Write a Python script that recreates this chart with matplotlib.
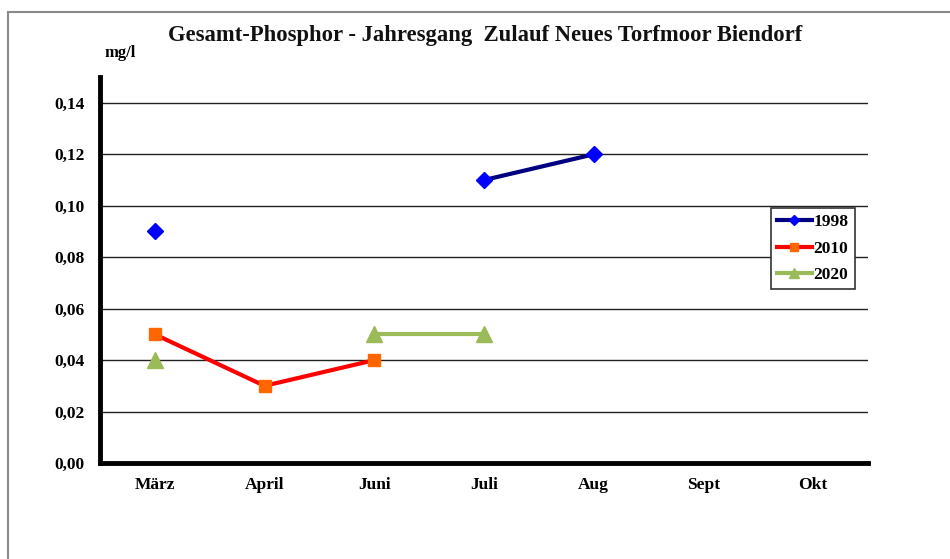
import matplotlib.pyplot as plt
import numpy as np
from matplotlib.lines import Line2D

# Monatswerte Gesamt-Phosphor (mg/l), NaN = keine Messung
months = ['März', 'April', 'Juni', 'Juli', 'Aug', 'Sept', 'Okt']
p_1998 = [0.09, np.nan, np.nan, 0.11, 0.12, np.nan, np.nan]
p_2010 = [0.05, 0.03, 0.04, np.nan, np.nan, np.nan, np.nan]
p_2020 = [0.04, np.nan, 0.05, 0.05, np.nan, np.nan, np.nan]
yticks = [0.0, 0.02, 0.04, 0.06, 0.08, 0.10, 0.12, 0.14]

plt.rcParams['font.family'] = ['Liberation Serif', 'DejaVu Serif']
plt.rcParams['font.weight'] = 'bold'

fig = plt.figure(figsize=(9.5, 5.59), dpi=100)
ax = fig.add_axes([0.1053, 0.1717, 0.8084, 0.6903])

x = np.arange(len(months))

for yv in yticks[1:]:
    ax.axhline(yv, color='#222222', lw=1.0, zorder=1)

ax.plot(x, p_1998, color='#000080', lw=3, marker='D', ms=8,
        mfc='#0000FF', mec='#0000FF', label='1998', zorder=3)
ax.plot(x, p_2010, color='#FF0000', lw=3, marker='s', ms=8.5,
        mfc='#FF6600', mec='#FF6600', label='2010', zorder=3)
ax.plot(x, p_2020, color='#9BBB59', lw=3, marker='^', ms=11,
        mfc='#9BBB59', mec='#9BBB59', label='2020', zorder=3)

ax.set_xlim(-0.5, 6.5)
ax.set_ylim(0, 0.15)
ax.set_xticks(x)
ax.set_xticklabels(months, fontsize=12.5, fontweight='bold')
ax.set_yticks(yticks)
ax.set_yticklabels([f'{v:.2f}'.replace('.', ',') for v in yticks],
                   fontsize=12.5, fontweight='bold')
ax.tick_params(axis='both', length=0)
ax.tick_params(axis='x', pad=10)
ax.tick_params(axis='y', pad=11)

for s in ['top', 'right']:
    ax.spines[s].set_visible(False)
ax.spines['left'].set_linewidth(3.5)
ax.spines['bottom'].set_linewidth(3.5)

fig.text(0.511, 0.937, 'Gesamt-Phosphor - Jahresgang  Zulauf Neues Torfmoor Biendorf',
         ha='center', va='center', fontsize=16.3, fontweight='bold', color='#111111')
fig.text(0.127, 0.906, 'mg/l', ha='center', va='center', fontsize=12, fontweight='bold')

leg = fig.legend(loc='upper left', bbox_to_anchor=(0.8116, 0.628), fontsize=12.5,
                 fancybox=False, framealpha=1, edgecolor='#333333',
                 handlelength=2.0, handletextpad=0.1, borderpad=0.35,
                 labelspacing=0.6, borderaxespad=0, markerscale=0.7)
leg.get_frame().set_linewidth(1.2)

# Rahmen der Grafik
fig.add_artist(Line2D([0.0084, 1.0], [0.9785, 0.9785], color='#8a8a8a', lw=1.5))
fig.add_artist(Line2D([0.0084, 0.0084], [0.0, 0.9785], color='#8a8a8a', lw=1.5))

fig.savefig('out.png', dpi=100)
